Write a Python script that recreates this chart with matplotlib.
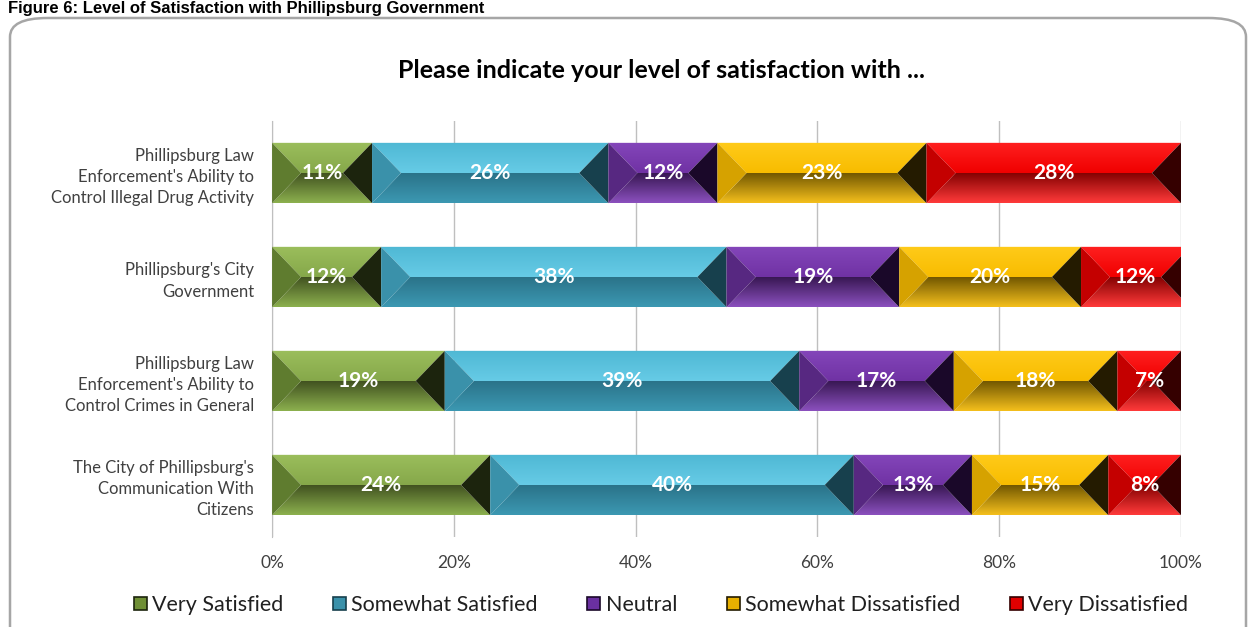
import numpy as np
import matplotlib.pyplot as plt
from matplotlib.patches import Polygon, FancyBboxPatch, Rectangle
from matplotlib.colors import LinearSegmentedColormap

plt.rcParams['font.family'] = ['Lato', 'DejaVu Sans']

#Chart data
questions = ["Phillipsburg Law\nEnforcement's Ability to\nControl Illegal Drug Activity",
             "Phillipsburg's City\nGovernment",
             "Phillipsburg Law\nEnforcement's Ability to\nControl Crimes in General",
             "The City of Phillipsburg's\nCommunication With\nCitizens"]
levels = ['Very Satisfied', 'Somewhat Satisfied', 'Neutral', 'Somewhat Dissatisfied', 'Very Dissatisfied']
very_satisfied = [11, 12, 19, 24]
somewhat_satisfied = [26, 38, 39, 40]
neutral = [12, 19, 17, 13]
somewhat_dissatisfied = [23, 20, 18, 15]
very_dissatisfied = [28, 12, 7, 8]
x_ticks = [0, 20, 40, 60, 80, 100]

series = [very_satisfied, somewhat_satisfied, neutral, somewhat_dissatisfied, very_dissatisfied]

#bevel colours: top-edge, top-mid, bottom-mid, bottom-edge, left, right, legend
shades = [
    ('#9BBE5C', '#86A84A', '#3F4F1F', '#8CB04E', '#5F7C2F', '#1C240D', '#6F8F35'),
    ('#4FB8D4', '#66CBE6', '#2A7288', '#3C98B2', '#3A91AA', '#17404D', '#3A91AA'),
    ('#8446BA', '#7032A4', '#361650', '#8B50BE', '#572881', '#1A0829', '#6A30A0'),
    ('#FFCB1A', '#F8BC00', '#6E5400', '#F4BF1C', '#D6A200', '#241B00', '#E8B000'),
    ('#FF2020', '#F00000', '#800000', '#FF3A3A', '#C40000', '#350000', '#E00000'),
]

fig = plt.figure(figsize=(12.52, 6.27), dpi=100)
ax = fig.add_axes([0.2173, 1 - 537 / 627, 0.726, 416 / 627])

bar_h = 0.58
bev = 3.2  #bevel width in percent units

def grad_fill(poly, c0, c1, x0, x1, y0, y1):
    cmap = LinearSegmentedColormap.from_list('g', [c0, c1])
    img = ax.imshow(np.linspace(0, 1, 64).reshape(-1, 1), cmap=cmap, aspect='auto',
                    extent=[x0, x1, y1, y0], zorder=3, interpolation='bilinear')
    img.set_clip_path(poly)

for row in range(len(questions)):
    left = 0
    for k, vals in enumerate(series):
        w = vals[row]
        x0, x1 = left, left + w
        top, mid, bot = row - bar_h / 2, row, row + bar_h / 2
        c_te, c_tm, c_bm, c_be, c_l, c_r, _ = shades[k]
        b = min(bev, w / 2)
        p_top = Polygon([(x0, top), (x1, top), (x1 - b, mid), (x0 + b, mid)], closed=True,
                        facecolor='none', edgecolor='none', zorder=3)
        ax.add_patch(p_top)
        grad_fill(p_top, c_te, c_tm, x0, x1, top, mid)
        p_bot = Polygon([(x0 + b, mid), (x1 - b, mid), (x1, bot), (x0, bot)], closed=True,
                        facecolor='none', edgecolor='none', zorder=3)
        ax.add_patch(p_bot)
        grad_fill(p_bot, c_bm, c_be, x0, x1, mid, bot)
        ax.add_patch(Polygon([(x0, top), (x0 + b, mid), (x0, bot)], closed=True,
                             facecolor=c_l, edgecolor='none', zorder=4))
        ax.add_patch(Polygon([(x1, top), (x1 - b, mid), (x1, bot)], closed=True,
                             facecolor=c_r, edgecolor='none', zorder=4))
        ax.text((x0 + x1) / 2, mid, f'{w}%', ha='center', va='center', color='white',
                fontsize=15, fontweight='bold', zorder=6)
        left = x1

ax.set_xlim(0, 100)
ax.set_ylim(len(questions) - 0.5, -0.5)
ax.set_xticks(x_ticks)
ax.set_xticklabels([f'{t}%' for t in x_ticks], fontsize=12.5, color='#404040')
ax.set_yticks(range(len(questions)))
ax.set_yticklabels(questions, fontsize=12, color='#404040', linespacing=1.4)
ax.tick_params(axis='y', length=0, pad=13)
ax.tick_params(axis='x', length=0, pad=13)
ax.grid(axis='x', color='#BFBFBF', linewidth=1, zorder=0)
ax.set_axisbelow(True)
for s in ['top', 'right', 'bottom']:
    ax.spines[s].set_visible(False)
ax.spines['left'].set_color('#BFBFBF')

fig.text(0.528, 1 - 70 / 627, 'Please indicate your level of satisfaction with ...',
         ha='center', va='center', fontsize=18, fontweight='bold', color='#000000')

#legend with small square handles
handles = [Rectangle((0, 0), 1, 1, facecolor=s[6], edgecolor=s[5], linewidth=1.2) for s in shades]
fig.legend(handles, levels, loc='center', bbox_to_anchor=(0.528, 1 - 605 / 627), ncol=5,
           frameon=False, fontsize=15.5, handlelength=0.6, handleheight=0.6,
           handletextpad=0.25, columnspacing=2.3, labelcolor='#202020')

#outer frame
frame = FancyBboxPatch((10 / 1252, -0.05), 1236 / 1252, 1 - 18 / 627 + 0.05,
                       boxstyle='round,pad=0,rounding_size=0.03', transform=fig.transFigure,
                       facecolor='none', edgecolor='#A6A6A6', linewidth=1.8, zorder=0)
fig.patches.append(frame)

fig.text(0.006, 1 - 1 / 627, 'Figure 6: Level of Satisfaction with Phillipsburg Government',
         ha='left', va='top', fontsize=12, fontweight='bold', family='Liberation Sans')

fig.savefig('out.png', dpi=100)
